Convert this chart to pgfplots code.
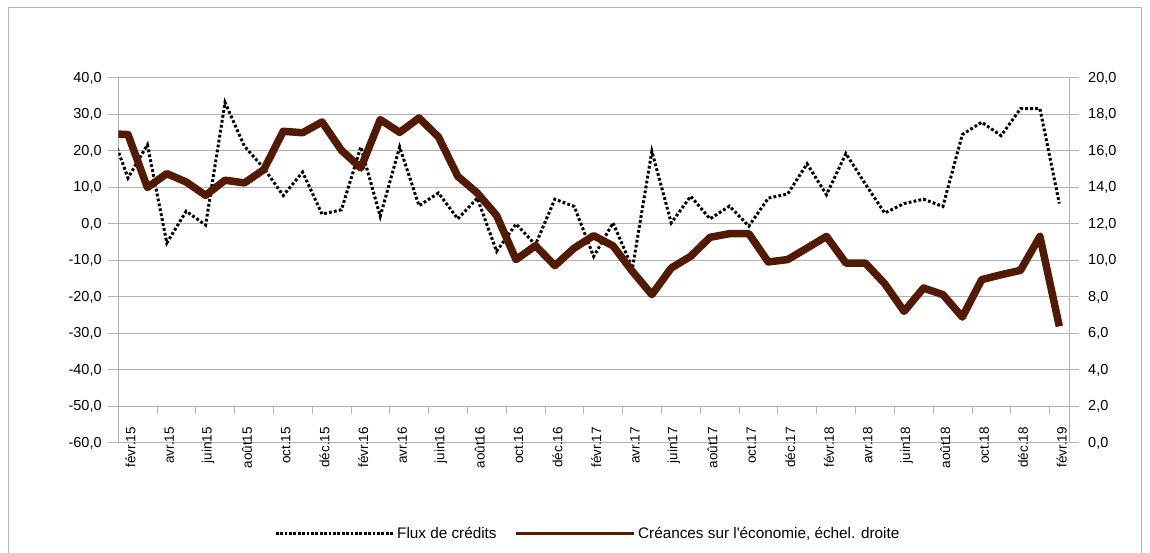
\documentclass[border=0pt]{standalone}
\usepackage{fontspec}
\setmainfont{Liberation Sans}
\usepackage{pgfplots}
\usepackage{pgfplotstable}
\pgfplotsset{compat=1.18}
\definecolor{brun}{RGB}{82,26,2}
\definecolor{grille}{RGB}{179,179,179}
\pgfplotstableread{
i a b
-1 27.2 16.95
0 12.6 16.9
1 21.7 14.0
2 -5.2 14.76
3 3.5 14.3
4 -0.3 13.57
5 33.3 14.4
6 21.3 14.25
7 15.3 14.98
8 7.8 17.08
9 14.2 17.0
10 2.7 17.59
11 3.9 16.04
12 21.1 15.07
13 2.1 17.72
14 21.1 17.02
15 5.0 17.81
16 8.5 16.77
17 1.4 14.61
18 7.1 13.7
19 -7.5 12.46
20 0.0 10.05
21 -5.7 10.81
22 6.8 9.72
23 4.8 10.68
24 -8.9 11.36
25 0.3 10.8
26 -12.1 9.4
27 19.9 8.13
28 0.3 9.59
29 7.6 10.23
30 1.4 11.27
31 4.9 11.47
32 -0.6 11.47
33 7.1 9.92
34 8.2 10.05
35 16.5 10.68
36 8.0 11.32
37 19.3 9.86
38 11.0 9.86
39 3.0 8.73
40 5.6 7.21
41 6.8 8.49
42 4.8 8.13
43 24.5 6.9
44 27.9 8.95
45 24.2 9.22
46 31.6 9.46
47 31.6 11.32
48 5.6 6.39
}\data
\begin{document}
\begin{tikzpicture}
\useasboundingbox (0pt,0pt) rectangle (1150pt,553pt);
\draw[grille, line width=1pt] (8pt,-2pt) -- (8pt,545pt) -- (1141pt,545pt) -- (1141pt,-2pt);
\begin{axis}[
  at={(118.3pt,110pt)}, anchor=south west, scale only axis,
  width=950.7pt, height=365pt,
  xmin=-0.5, xmax=48.5, ymin=-60, ymax=40,
  axis line style={grille, line width=1pt},
  ytick={-60,-50,...,40}, ymajorgrids,
  grid style={grille, line width=1pt},
  ytick pos=left, tick align=outside,
  ytick style={grille, line width=1pt}, major tick length=10pt,
  yticklabel={\pgfmathprintnumber[fixed,fixed zerofill,precision=1,use comma,assume math mode=true]{\tick}},
  yticklabel style={font=\fontsize{14.5}{17}\selectfont, inner sep=0pt, xshift=-6.5pt},
  xtick={0,2,...,48},
  xticklabels={févr.15,avr.15,juin15,août15,oct.15,déc.15,févr.16,avr.16,juin16,août16,oct.16,déc.16,févr.17,avr.17,juin17,août17,oct.17,déc.17,févr.18,avr.18,juin18,août18,oct.18,déc.18,févr.19},
  xtick style={draw=none},
  xticklabel style={font=\fontsize{13.5}{16}\selectfont, inner sep=0pt, yshift=26pt, xshift=2.5pt, rotate=90, anchor=east},
  legend style={at={(0.494,-0.2485)}, anchor=center, draw=none, fill=none,
    font=\fontsize{15.3}{18}\selectfont, legend columns=2,
    /tikz/every even column/.append style={column sep=16pt}},
  legend image code/.code={\draw[#1] (0pt,0pt) -- (118pt,0pt);},
]
\addplot[black, line width=3pt, dash pattern=on 2.8pt off 2.2pt, forget plot] table[x=i,y=a]{\data};
\addlegendimage{black, line width=2.6pt, dash pattern=on 2.8pt off 1.6pt}
\addlegendentry{Flux de crédits}
\addlegendimage{brun, line width=3.5pt}
\addlegendentry{Créances sur l\textquotesingle économie, échel. droite}
\pgfplotsinvokeforeach{1.5,3.5,...,47.5}{
  \draw[grille, line width=1pt] (axis cs:#1,-50) -- ([yshift=-8pt]axis cs:#1,-50);
}
\end{axis}
\begin{axis}[
  at={(118.3pt,110pt)}, anchor=south west, scale only axis,
  width=950.7pt, height=365pt,
  xmin=-0.5, xmax=48.5, ymin=0, ymax=20,
  axis x line=none, axis y line*=right,
  axis line style={grille, line width=1pt},
  ytick={0,2,...,20}, tick align=outside,
  ytick style={grille, line width=1pt}, major tick length=10pt,
  yticklabel={\pgfmathprintnumber[fixed,fixed zerofill,precision=1,use comma,assume math mode=true]{\tick}},
  yticklabel style={font=\fontsize{14.5}{17}\selectfont, inner sep=0pt, xshift=9pt},
]
\addplot[brun, line width=7.5pt, line join=round] table[x=i,y=b]{\data};
\end{axis}
\end{tikzpicture}
\end{document}
